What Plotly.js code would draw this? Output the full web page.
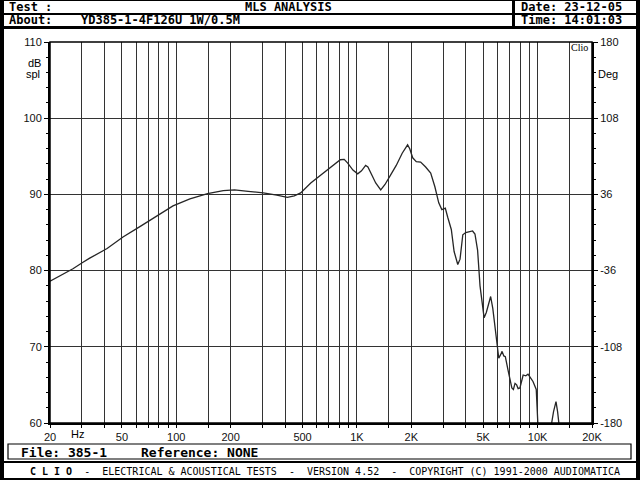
<!DOCTYPE html>
<html>
<head>
<meta charset="utf-8">
<script src="https://cdn.plot.ly/plotly-3.0.1.min.js"></script>
<style>
html,body{margin:0;padding:0;background:#fff;}
#chart{width:640px;height:480px;}
</style>
</head>
<body>
<div id="chart"></div>
<script>
// Frequency response data (Hz, dB SPL)
var freqHz = [20, 26.8, 30, 33, 41.4, 50.7, 63.2, 78.6, 95.9, 119, 149, 182, 210, 250, 303, 360, 412, 450, 488, 555, 620, 690, 750, 809, 850, 889, 950, 1010, 1060, 1117, 1150, 1192, 1270, 1354, 1430, 1540, 1650, 1780, 1907, 1960, 2035, 2130, 2252, 2400, 2560, 2700, 2836, 2950, 3083, 3180, 3329, 3450, 3614, 3720, 3854, 4000, 4366, 4500, 4653, 4800, 5057, 5200, 5496, 5650, 5850, 6000, 6096, 6250, 6358, 6500, 6626, 6850, 7047, 7200, 7345, 7500, 7656, 7800, 7980, 8150, 8318, 8600, 8848, 9100, 9428, 9826, 9950, 10100, 10500, 11500, 11865, 12250, 12640, 12900, 13180, 13500, 20000];
var splDb = [78.6, 80.25, 81.0, 81.6, 82.9, 84.4, 85.8, 87.2, 88.5, 89.4, 90.1, 90.5, 90.6, 90.4, 90.2, 89.9, 89.6, 89.8, 90.2, 91.5, 92.4, 93.2, 94.0, 94.55, 94.6, 94.1, 93.2, 92.7, 93.1, 93.8, 93.6, 92.8, 91.5, 90.6, 91.3, 92.6, 93.8, 95.4, 96.5, 96.0, 94.8, 94.3, 94.25, 93.6, 92.8, 91.0, 88.9, 88.0, 88.2, 87.0, 85.4, 82.5, 80.8, 81.5, 84.7, 85.0, 85.2, 84.8, 82.7, 78.0, 73.8, 74.5, 76.6, 75.0, 72.25, 69.8, 68.5, 69.0, 69.4, 68.8, 68.7, 67.0, 65.7, 64.6, 64.4, 65.2, 65.0, 64.5, 64.6, 65.5, 66.3, 66.2, 66.4, 66.0, 65.45, 64.4, 62.0, 58.0, 50, 50, 59.5, 61.5, 62.8, 61.5, 59.5, 50, 50];

// Axis ticks
var xGridVals = [20,30,40,50,60,70,80,90,100,150,200,300,400,500,600,700,800,900,1000,1500,2000,3000,4000,5000,6000,7000,8000,9000,10000,15000,20000];
var xLabelMap = {20:'20',50:'50',100:'100',200:'200',500:'500',1000:'1K',2000:'2K',5000:'5K',10000:'10K',20000:'20K'};
var yLeftVals = [60,70,80,90,100,110];
var yRightVals = [-180,-108,-36,36,108,180];
var yRightText = ['-180','-108','-36','36','108','180'];

var xTickText = xGridVals.map(function(v){ return xLabelMap[v] || ''; });

// pixel -> paper helpers (plot area 50..592 x, 42..423 y)
var PL=50, PR=592, PT=42, PB=423;
function px(x){ return (x-PL)/(PR-PL); }
function py(y){ return (PB-y)/(PB-PT); }
function rect(x0,y0,x1,y1,fill,lineW){
  return {type:'rect', xref:'paper', yref:'paper', x0:px(x0), x1:px(x1), y0:py(y1), y1:py(y0),
    fillcolor: fill||'rgba(0,0,0,0)', line:{color:'#000', width: lineW||0}, layer:'above'};
}
function txt(x,y,t,anchor,size,family){
  return {xref:'paper', yref:'paper', x:px(x), y:py(y), text:t, showarrow:false,
    xanchor:anchor||'left', yanchor:'middle', borderpad:0,
    font:{family:family||'DejaVu Sans Mono', size:size||13, color:'#000'}};
}

var mono = 'DejaVu Sans Mono';
var thin = 'Liberation Sans';

var shapes = [
  // outer bands
  rect(0,0,4,480,'#000'),
  rect(636,0,640,480,'#000'),
  rect(0,0,640,1,'#000'),
  rect(0,478,640,480,'#000'),
  // header separators
  rect(0,13,640,15,'#000'),
  rect(0,26,640,29,'#000'),
  rect(512,0,515,29,'#000'),
  // footer separator
  rect(0,461,640,463,'#000'),
  // file box
  rect(8,444,631,459,null,1.2),
  // plot frame
  rect(PL,PT,PR,PB,null,1.5)
];

var annotations = [
  txt(8,6.5,'<b>Test :</b>','left',12,mono),
  txt(288,6.5,'<b>MLS ANALYSIS</b>','center',12,mono),
  txt(520,6.5,'<b>Date: 23-12-05</b>','left',12,mono),
  txt(8,20.5,'<b>About:</b>','left',12,mono),
  txt(80,20.5,'<b>YD385-1-4F126U 1W/0.5M</b>','left',12,mono),
  txt(520,20.5,'<b>Time: 14:01:03</b>','left',12,mono),
  txt(20,452,'<b>File: 385-1</b>','left',13,mono),
  txt(140,452,'<b>Reference: NONE</b>','left',13,mono),
  txt(325,471,'<b>C L I O</b>  -  ELECTRICAL &amp; ACOUSTICAL TESTS  -  VERSION 4.52  -  COPYRIGHT (C) 1991-2000 AUDIOMATICA','center',10,mono),
  txt(27,63,'dB','left',11,thin),
  txt(25,74,'spl','left',11,thin),
  txt(597,74,'Deg','left',11,thin),
  txt(570,47,'Clio','left',10,'Liberation Serif'),
  txt(70,434,'Hz','left',11,thin)
];

var traces = [
  {x: freqHz, y: splDb, type:'scatter', mode:'lines', line:{color:'#262626', width:1.3}, hoverinfo:'skip', showlegend:false},
  {x: [20], y: [0], yaxis:'y2', type:'scatter', mode:'markers', marker:{opacity:0}, hoverinfo:'skip', showlegend:false}
];

var layout = {
  width:640, height:480,
  margin:{l:PL, r:640-PR, t:PT, b:480-PB, pad:0},
  paper_bgcolor:'#fff', plot_bgcolor:'#fff',
  showlegend:false,
  xaxis:{type:'log', range:[Math.log10(20), Math.log10(20000)], tickmode:'array', tickvals:xGridVals, ticktext:xTickText,
    showgrid:true, gridcolor:'#333', gridwidth:1, ticks:'outside', ticklen:3, tickcolor:'#000',
    tickfont:{family:thin, size:11, color:'#111'}, showline:true, linecolor:'#000', linewidth:2, zeroline:false, fixedrange:true},
  yaxis:{range:[60,110], tickmode:'array', tickvals:yLeftVals, showgrid:true, gridcolor:'#333', gridwidth:1,
    ticks:'outside', ticklen:4, tickcolor:'#000', tickfont:{family:thin, size:11, color:'#111'},
    minor:{tickmode:'linear', tick0:60, dtick:2, ticks:'outside', ticklen:2, tickcolor:'#000', showgrid:false},
    showline:true, linecolor:'#000', linewidth:2, zeroline:false, fixedrange:true},
  yaxis2:{overlaying:'y', side:'right', range:[-180,180], tickmode:'array', tickvals:yRightVals, ticktext:yRightText,
    showgrid:false, ticks:'outside', ticklen:4, tickcolor:'#000', tickfont:{family:thin, size:11, color:'#111'},
    minor:{tickmode:'linear', tick0:-180, dtick:14.4, ticks:'outside', ticklen:2, tickcolor:'#000', showgrid:false},
    showline:true, linecolor:'#000', linewidth:2, zeroline:false, fixedrange:true},
  shapes: shapes,
  annotations: annotations
};

Plotly.newPlot('chart', traces, layout, {staticPlot:true, displayModeBar:false});
</script>
</body>
</html>
